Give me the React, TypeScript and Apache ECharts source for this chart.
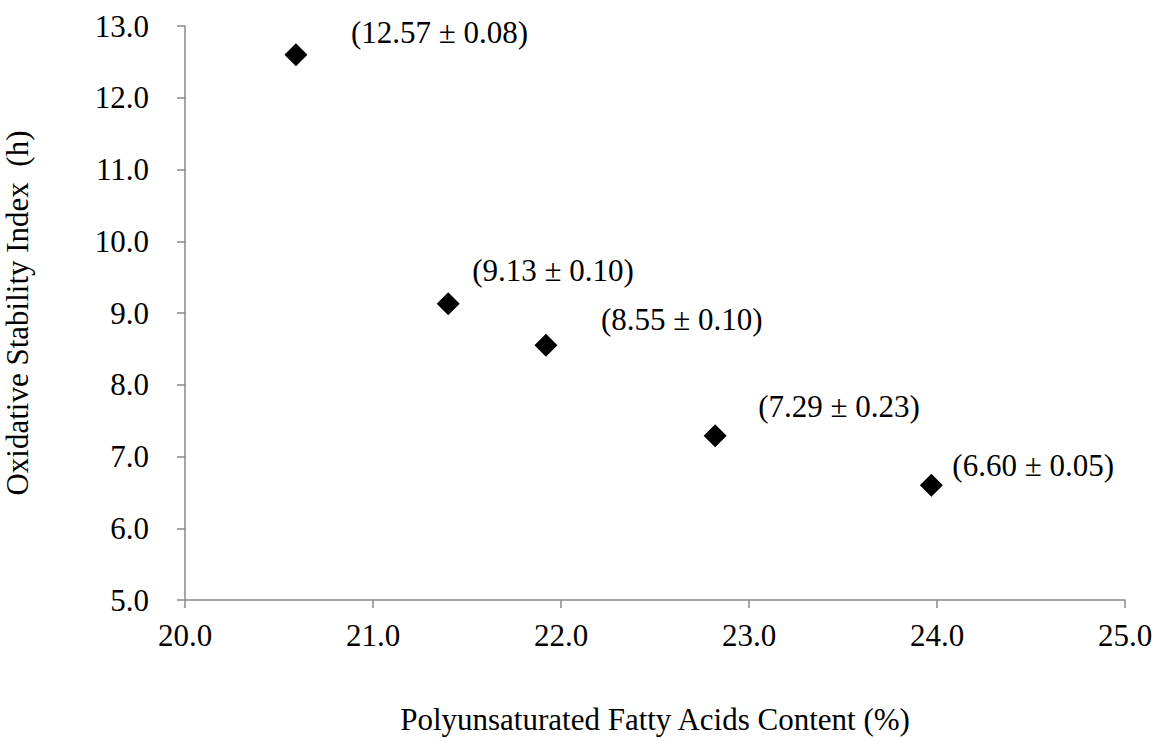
import React, { useEffect, useRef } from "react";
import * as echarts from "echarts";

const pufaContent = [20.59, 21.4, 21.92, 22.82, 23.97];
const osiHours = [12.6, 9.13, 8.55, 7.29, 6.6];
const pointLabels = [
  "(12.57 ± 0.08)",
  "(9.13 ± 0.10)",
  "(8.55 ± 0.10)",
  "(7.29 ± 0.23)",
  "(6.60 ± 0.05)",
];
const labelOffsets: [number, number][] = [
  [55, -22],
  [24, -33],
  [55, -26],
  [43, -29],
  [21, -20],
];
const xTitle = "Polyunsaturated Fatty Acids Content (%)";
const yTitle = "Oxidative Stability Index  (h)";

const FONT = "'Liberation Serif', 'Times New Roman', serif";

export default function App() {
  const ref = useRef<HTMLDivElement>(null);
  useEffect(() => {
    if (!ref.current) return;
    const chart = echarts.init(ref.current, null, { renderer: "svg" });
    const axisColor = "#898989";
    chart.setOption({
      animation: false,
      backgroundColor: "#ffffff",
      grid: {
        left: 185,
        right: 29,
        top: 26,
        bottom: 141,
        containLabel: false,
        outerBoundsMode: "none",
      },
      xAxis: {
        type: "value",
        min: 20,
        max: 25,
        interval: 1,
        name: xTitle,
        nameLocation: "middle",
        nameGap: 104,
        nameTextStyle: { fontFamily: FONT, fontSize: 31, color: "#000" },
        axisLine: { show: true, lineStyle: { color: axisColor, width: 1.5 } },
        axisTick: { show: true, length: 8, lineStyle: { color: axisColor, width: 1.5 } },
        axisLabel: {
          fontFamily: FONT,
          fontSize: 31,
          color: "#000",
          margin: 20,
          formatter: (v: number) => v.toFixed(1),
        },
        splitLine: { show: false },
      },
      yAxis: {
        type: "value",
        min: 5,
        max: 13,
        interval: 1,
        name: yTitle,
        nameLocation: "middle",
        nameGap: 152,
        nameTextStyle: { fontFamily: FONT, fontSize: 31, color: "#000" },
        axisLine: { show: true, lineStyle: { color: axisColor, width: 1.5 } },
        axisTick: { show: true, length: 8, lineStyle: { color: axisColor, width: 1.5 } },
        axisLabel: {
          fontFamily: FONT,
          fontSize: 31,
          color: "#000",
          margin: 36,
          formatter: (v: number) => v.toFixed(1),
        },
        splitLine: { show: false },
      },
      series: [
        {
          type: "scatter",
          symbol: "diamond",
          symbolSize: 23,
          itemStyle: { color: "#000", opacity: 1 },
          emphasis: { disabled: true },
          data: pufaContent.map((x, i) => ({
            value: [x, osiHours[i]],
            label: {
              show: true,
              position: "inside",
              align: "left",
              verticalAlign: "middle",
              offset: labelOffsets[i],
              formatter: pointLabels[i],
              fontFamily: FONT,
              fontSize: 31,
              color: "#000",
              opacity: 1,
            },
          })),
        },
      ],
    });
    return () => chart.dispose();
  }, []);
  return (
    <div
      ref={ref}
      style={{ position: "fixed", left: 0, top: 0, width: 1154, height: 741, background: "#fff" }}
    />
  );
}
